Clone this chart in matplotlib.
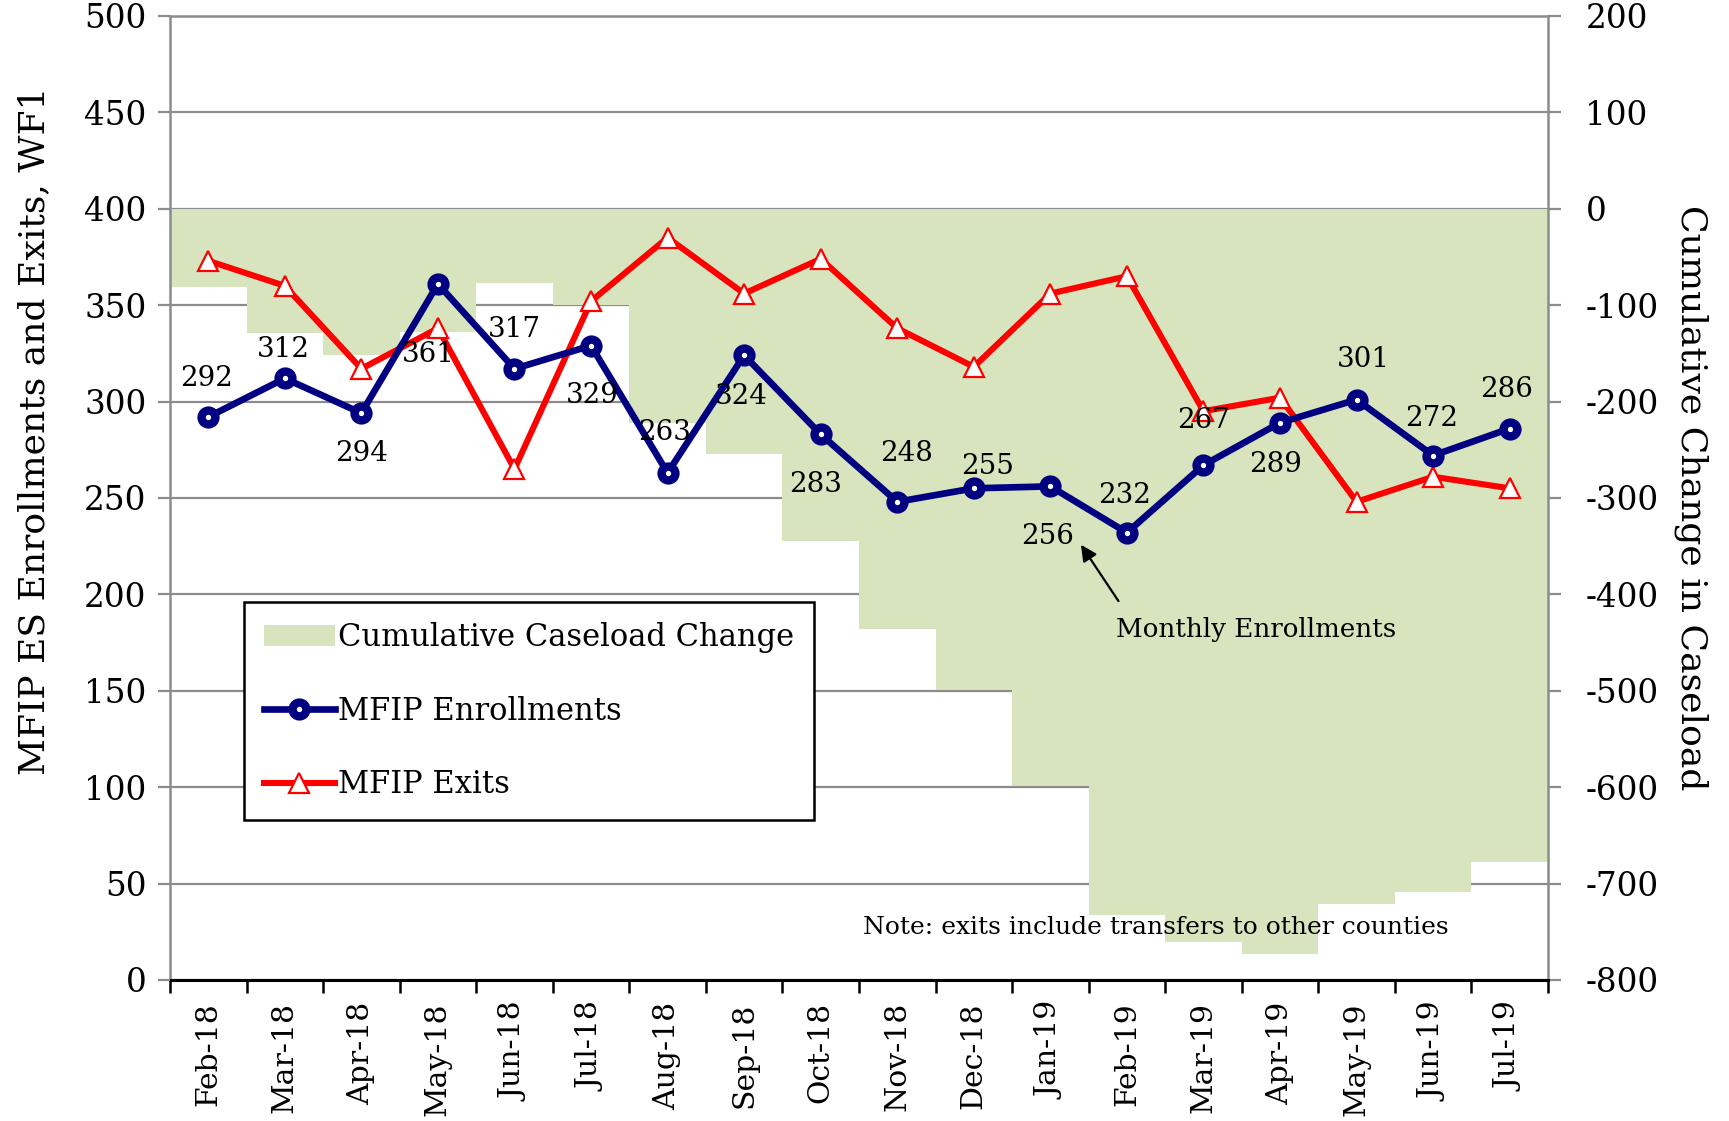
import matplotlib
matplotlib.use('Agg')
import matplotlib.pyplot as plt
import numpy as np
from matplotlib.ticker import FuncFormatter, FixedLocator, MultipleLocator
from matplotlib.lines import Line2D
from matplotlib.patches import Patch

months = ['Feb-18', 'Mar-18', 'Apr-18', 'May-18', 'Jun-18', 'Jul-18', 'Aug-18',
          'Sep-18', 'Oct-18', 'Nov-18', 'Dec-18', 'Jan-19', 'Feb-19', 'Mar-19',
          'Apr-19', 'May-19', 'Jun-19', 'Jul-19']
enrollments = [292, 312, 294, 361, 317, 329, 263, 324, 283, 248, 255, 256, 232,
               267, 289, 301, 272, 286]
exits = [373, 360, 317, 338, 265, 352, 385, 356, 374, 338, 318, 356, 365,
         295, 302, 248, 261, 255]
cumulative_change = [-81, -129, -152, -128, -77, -100, -222, -254, -345, -436,
                     -499, -599, -733, -761, -773, -721, -709, -678]

# label offsets (points) for enrollment data labels
label_dx = [-1, -1, 0, -7, 0, 1, -2, -2, -4, 7, 10, -2, -2, 0, -3, 5, -1, -2]
label_dy = [28, 21, -29, -51, 28, -36, 29, -30, -36, 35, 16, -36, 27, 32, -30, 29, 27, 28]

SERIF = 'DejaVu Serif'
plt.rcParams['font.family'] = SERIF

fig = plt.figure(figsize=(17.29, 11.21), dpi=100)
ax2 = fig.add_axes([0.0983, 0.1258, 0.797, 0.86])  # right-scale (cumulative) host
ax = ax2.twinx()  # left-scale lines on top

x = np.arange(len(months))
GRID = '#8c8c8c'
GREEN = '#D7E4BD'
NAVY = '#000080'
RED = '#FF0000'

# Host axis: right scale with bars, grid
ax2.set_ylim(-800, 200)
ax2.set_xlim(-0.5, len(months) - 0.5)
ax2.bar(x, cumulative_change, width=1.0, color=GREEN, edgecolor='none', zorder=2)
ax2.yaxis.set_major_locator(MultipleLocator(100))
ax2.yaxis.grid(True, color=GRID, linewidth=1.6, zorder=0)
ax2.set_axisbelow(True)
ax2.yaxis.tick_right()
ax2.yaxis.set_label_position('right')
ax2.yaxis.set_major_formatter(FuncFormatter(lambda v, p: f'{int(v)}'.replace('\u2212', '-')))
ax2.tick_params(axis='y', direction='out', length=9, width=1.6, color=GRID,
                labelsize=23.5, pad=18)
for lab in ax2.get_yticklabels():
    lab.set_horizontalalignment('left')
ax2.set_ylabel('Cumulative Change in Caseload', fontsize=26, rotation=270,
               labelpad=36)

# x axis
ax2.set_xticks(x)
ax2.set_xticklabels(months, rotation=90, fontsize=21.5)
ax2.xaxis.set_minor_locator(FixedLocator(np.arange(-0.5, len(months), 1.0)))
ax2.tick_params(axis='x', which='major', length=0, pad=16)
ax2.tick_params(axis='x', which='minor', length=9, width=1.8, color='black')

for side in ['left', 'right', 'top']:
    ax2.spines[side].set_color(GRID)
    ax2.spines[side].set_linewidth(1.8)
ax2.spines['bottom'].set_color('black')
ax2.spines['bottom'].set_linewidth(2.2)

# Lines on left scale
ax.set_ylim(0, 500)
ax.yaxis.tick_left()
ax.yaxis.set_label_position('left')
ax.yaxis.set_major_locator(MultipleLocator(50))
ax.tick_params(axis='y', direction='out', length=9, width=1.6, color=GRID,
               labelsize=23.5, pad=8)
for side in ['left', 'right', 'top', 'bottom']:
    ax.spines[side].set_visible(False)
ax.set_ylabel('MFIP ES Enrollments and Exits, WF1', fontsize=26)
ax.yaxis.set_label_coords(-0.086, 0.570)

ax.plot(x, exits, color=RED, linewidth=4.4, marker='^', markersize=14,
        markerfacecolor='white', markeredgecolor=RED, markeredgewidth=1.6,
        zorder=3, label='MFIP Exits')
ax.plot(x, enrollments, color=NAVY, linewidth=4.8, marker='o', markersize=10,
        markerfacecolor='white', markeredgecolor=NAVY, markeredgewidth=6,
        zorder=4, label='MFIP Enrollments')

for xi, v, dx, dy in zip(x, enrollments, label_dx, label_dy):
    ax.annotate(str(v), (xi, v), xytext=(dx, dy), textcoords='offset points',
                ha='center', va='center', fontsize=20, zorder=5)

ax.annotate('', xy=(11.40, 225.7), xytext=(11.89, 196.5),
            arrowprops=dict(arrowstyle='-|>', color='black', lw=1.6,
                            mutation_scale=24, shrinkA=0, shrinkB=0))
ax.text(13.69, 182, 'Monthly Enrollments', ha='center', va='center', fontsize=18.8)
ax.text(8.55, 27, 'Note: exits include transfers to other counties', fontsize=18,
        ha='left', va='center')

handles = [Patch(facecolor=GREEN, edgecolor='none'),
           Line2D([], [], color=NAVY, linewidth=4.8, marker='o', markersize=10,
                  markerfacecolor='white', markeredgecolor=NAVY, markeredgewidth=6),
           Line2D([], [], color=RED, linewidth=4.4, marker='^', markersize=14,
                  markerfacecolor='white', markeredgecolor=RED, markeredgewidth=1.6)]
leg = ax.legend(handles, ['Cumulative Caseload Change', 'MFIP Enrollments', 'MFIP Exits'],
                loc='upper left', bbox_to_anchor=(0.054, 0.392), fontsize=22,
                frameon=True, fancybox=False, edgecolor='black', framealpha=1,
                handlelength=2.3, labelspacing=1.4, borderpad=0.65, handletextpad=0.1,
                borderaxespad=0)
leg.get_frame().set_linewidth(1.8)

fig.savefig('out.png', dpi=100, facecolor='white')
